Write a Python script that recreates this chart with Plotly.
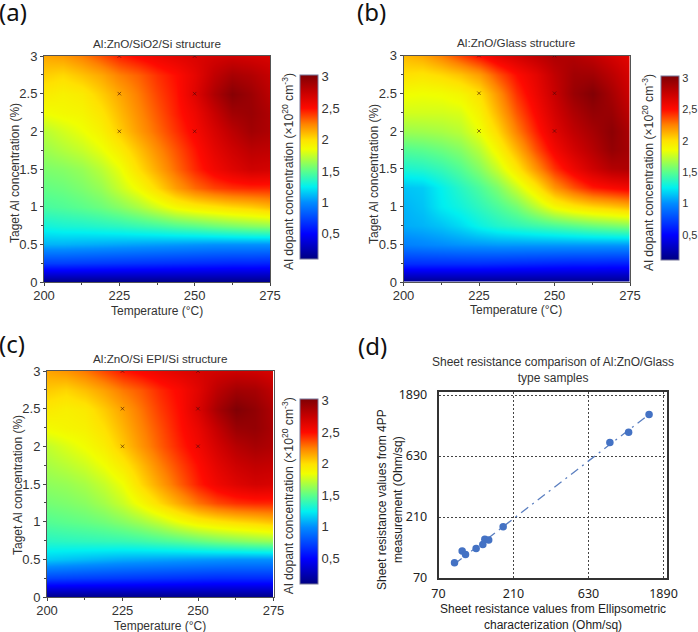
import plotly.graph_objects as go
import math

W, H = 698, 632

temps = [200, 206.25, 212.5, 218.75, 225, 231.25, 237.5, 243.75, 250, 256.25, 262.5, 268.75, 275]
targets = [0, 0.25, 0.5, 0.75, 1, 1.25, 1.5, 1.75, 2, 2.25, 2.5, 2.75, 3]

z_a = [
 [0.12,0.12,0.12,0.12,0.12,0.12,0.12,0.12,0.12,0.12,0.12,0.12,0.12],
 [0.72,0.72,0.71,0.70,0.69,0.68,0.67,0.66,0.65,0.64,0.63,0.63,0.62],
 [1.10,1.10,1.09,1.08,1.07,1.06,1.05,1.04,1.03,1.02,1.02,1.02,1.02],
 [1.30,1.32,1.33,1.35,1.37,1.40,1.43,1.47,1.50,1.54,1.57,1.60,1.62],
 [1.45,1.47,1.50,1.54,1.60,1.68,1.78,1.88,1.94,1.98,2.02,2.05,2.10],
 [1.52,1.54,1.58,1.64,1.75,1.87,2.02,2.18,2.30,2.38,2.42,2.44,2.44],
 [1.58,1.60,1.64,1.72,1.83,2.00,2.15,2.30,2.44,2.56,2.65,2.72,2.70],
 [1.65,1.70,1.75,1.83,1.94,2.08,2.22,2.35,2.48,2.62,2.72,2.80,2.78],
 [1.72,1.78,1.84,1.92,2.05,2.18,2.30,2.42,2.54,2.68,2.80,2.90,2.85],
 [1.85,1.88,1.90,1.98,2.10,2.22,2.34,2.46,2.58,2.75,2.90,2.93,2.85],
 [1.95,1.92,1.95,2.05,2.15,2.26,2.38,2.48,2.65,2.85,3.00,2.92,2.80],
 [2.05,2.02,2.08,2.15,2.25,2.32,2.42,2.50,2.62,2.78,2.88,2.84,2.76],
 [2.15,2.18,2.25,2.35,2.45,2.52,2.58,2.63,2.67,2.70,2.72,2.70,2.68],
]

z_b = [
 [0.12,0.12,0.12,0.12,0.12,0.12,0.12,0.12,0.12,0.12,0.12,0.12,0.12],
 [0.66,0.66,0.66,0.66,0.66,0.65,0.64,0.63,0.62,0.61,0.61,0.60,0.60],
 [0.96,0.98,1.00,1.02,1.03,1.04,1.04,1.04,1.04,1.04,1.04,1.04,1.04],
 [1.08,1.10,1.14,1.20,1.28,1.34,1.38,1.42,1.46,1.50,1.54,1.57,1.60],
 [1.10,1.14,1.24,1.30,1.38,1.46,1.56,1.72,1.88,1.97,2.03,2.07,2.12],
 [1.14,1.16,1.26,1.36,1.46,1.58,1.76,1.96,2.20,2.35,2.47,2.52,2.56],
 [1.33,1.35,1.40,1.48,1.60,1.76,1.97,2.20,2.42,2.58,2.72,2.83,2.85],
 [1.48,1.50,1.54,1.60,1.72,1.90,2.12,2.35,2.55,2.70,2.82,2.95,2.88],
 [1.65,1.66,1.68,1.72,1.84,2.02,2.25,2.45,2.64,2.78,2.88,2.98,2.85],
 [1.78,1.78,1.78,1.80,1.92,2.12,2.34,2.52,2.70,2.85,2.95,2.93,2.78],
 [1.86,1.85,1.86,1.90,2.00,2.20,2.42,2.58,2.75,2.93,3.02,2.88,2.72],
 [2.00,1.98,2.02,2.08,2.18,2.35,2.50,2.62,2.78,2.90,2.90,2.80,2.68],
 [2.10,2.15,2.25,2.38,2.50,2.62,2.70,2.78,2.85,2.84,2.78,2.70,2.62],
]

z_c = [
 [0.12,0.12,0.12,0.12,0.12,0.12,0.12,0.12,0.12,0.12,0.12,0.12,0.12],
 [0.74,0.73,0.72,0.71,0.70,0.69,0.68,0.67,0.66,0.65,0.65,0.65,0.65],
 [1.16,1.14,1.12,1.10,1.08,1.07,1.06,1.05,1.04,1.03,1.02,1.02,1.02],
 [1.36,1.37,1.38,1.39,1.40,1.42,1.45,1.48,1.52,1.56,1.59,1.62,1.64],
 [1.48,1.50,1.52,1.55,1.60,1.66,1.74,1.84,1.92,1.97,2.01,2.04,2.08],
 [1.56,1.58,1.61,1.67,1.76,1.88,2.02,2.15,2.28,2.37,2.42,2.44,2.44],
 [1.62,1.64,1.68,1.75,1.85,2.02,2.17,2.32,2.46,2.57,2.65,2.70,2.68],
 [1.68,1.72,1.77,1.85,1.96,2.10,2.25,2.38,2.50,2.63,2.73,2.78,2.76],
 [1.74,1.80,1.86,1.94,2.07,2.20,2.33,2.45,2.56,2.70,2.82,2.88,2.84],
 [1.87,1.90,1.92,2.00,2.12,2.24,2.36,2.48,2.60,2.77,2.93,2.95,2.86],
 [1.96,1.93,1.96,2.06,2.17,2.28,2.40,2.50,2.67,2.88,3.03,2.96,2.84],
 [2.06,2.03,2.09,2.17,2.27,2.34,2.44,2.52,2.64,2.80,2.90,2.88,2.78],
 [2.16,2.20,2.27,2.37,2.47,2.53,2.59,2.64,2.68,2.71,2.73,2.72,2.68],
]

sample_t = [225, 225, 225, 250, 250, 250]
sample_c = [2, 2.5, 3, 2, 2.5, 3]

bar_ticks = [0.5, 1, 1.5, 2, 2.5, 3]
bar_labels = ["0,5", "1", "1,5", "2", "2,5", "3"]
temp_ticks = [200, 225, 250, 275]
conc_ticks = [0, 0.5, 1, 1.5, 2, 2.5, 3]
conc_labels = ["0", "0.5", "1", "1.5", "2", "2.5", "3"]

ellip = [88.5, 99, 104, 121.5, 134, 138, 146, 180.5, 862, 1134, 1530]
fourpp = [92, 113.6, 107, 119, 128, 141, 139, 176, 803, 966, 1334]
fit_x = [88.5, 1530]
fit_y = [90, 1334]
log_ticks = [70, 210, 630, 1890]

ZMIN, ZMAX = 0.1, 3.03
def stop(v):
    return (v - ZMIN) / (ZMAX - ZMIN)
colors = [
    (0.1, "rgb(0,0,130)"), (0.5, "rgb(0,0,255)"), (1.0, "rgb(0,140,255)"),
    (1.25, "rgb(0,240,240)"), (1.5, "rgb(90,255,140)"), (1.85, "rgb(240,255,0)"),
    (2.0, "rgb(255,225,0)"), (2.25, "rgb(255,130,0)"), (2.5, "rgb(255,10,0)"),
    (2.75, "rgb(200,0,0)"), (3.03, "rgb(128,0,4)"),
]
cscale = [[stop(v), c] for v, c in colors]

def px(x): return x / W
def py(y): return 1 - y / H

GREY = "#333333"
SANS = "Liberation Sans, Arial, sans-serif"
HUM = "Noto Sans, Open Sans, sans-serif"

panels = [
 dict(z=z_a, box=(44, 270, 56, 282), bar=(300, 75, 259), title="Al:ZnO/SiO2/Si structure", tx=157, ty=43,
      lab="(a)", lx=13, ly=12, xt=157, xty=311, yt=15, yc=173, barT=288, tf=13),
 dict(z=z_b, box=(403.5, 630, 55.5, 282), bar=(660.5, 76, 260), title="Al:ZnO/Glass structure", tx=516, ty=42,
      lab="(b)", lx=371, ly=12, xt=516, xty=310, yt=374, yc=174, barT=648, tf=11),
 dict(z=z_c, box=(47, 273.5, 371, 597), bar=(300, 399, 583.5), title="Al:ZnO/Si EPI/Si structure", tx=159.5, ty=358,
      lab="(c)", lx=12, ly=343, xt=160, xty=626, yt=18, yc=485, barT=288, tf=13),
]

fig = go.Figure()
annotations = []
layout = dict(width=W, height=H, margin=dict(l=0, r=0, t=0, b=0, autoexpand=False),
              paper_bgcolor="white", plot_bgcolor="white", showlegend=False)

def note(text, x, y, size, angle=0, family=SANS, color=GREY):
    annotations.append(dict(text=text, x=px(x), y=py(y), xref="paper", yref="paper", showarrow=False,
                            textangle=angle, xanchor="center", yanchor="middle",
                            font=dict(size=size, family=family, color=color)))

for i, p in enumerate(panels, start=1):
    l, r, t, b = p["box"]
    bx, bt, bb = p["bar"]
    xa, ya = f"x{i}", f"y{i}"
    fig.add_trace(go.Heatmap(
        x=temps, y=targets, z=p["z"], zmin=ZMIN, zmax=ZMAX, zsmooth="best", colorscale=cscale,
        xaxis=xa, yaxis=ya,
        colorbar=dict(x=px(bx), xanchor="left", xref="paper", y=py(bb), yanchor="bottom", yref="paper",
                      len=(bb - bt), lenmode="pixels", thickness=18, thicknessmode="pixels",
                      tickvals=bar_ticks, ticktext=bar_labels, ticks="", ticklabelposition="outside",
                      tickfont=dict(size=p["tf"], family=SANS, color=GREY),
                      outlinecolor="#777799", outlinewidth=1, borderwidth=0, xpad=0, ypad=0),
    ))
    fig.add_trace(go.Scatter(x=sample_t, y=sample_c, mode="markers", xaxis=xa, yaxis=ya,
                             marker=dict(symbol="x-thin", size=3.5, line=dict(width=0.8, color="rgba(60,10,10,0.7)"))))
    axis_common = dict(showgrid=False, zeroline=False, ticks="outside", ticklen=3, tickwidth=1,
                       tickcolor="#444444", showline=True, linecolor="#555555", linewidth=1, mirror=True,
                       tickfont=dict(size=13, family=SANS, color=GREY))
    layout[f"xaxis{i}"] = dict(domain=[px(l), px(r)], anchor=ya, range=[200, 275], tickvals=temp_ticks,
                               ticklabelstandoff=-2,
                               minor=dict(ticks="outside", ticklen=2, dtick=12.5, tickcolor="#444444"), **axis_common)
    layout[f"yaxis{i}"] = dict(domain=[py(b), py(t)], anchor=xa, range=[0, 3], tickvals=conc_ticks,
                               ticktext=conc_labels,
                               minor=dict(ticks="outside", ticklen=2, dtick=0.25, tickcolor="#444444"), **axis_common)
    note(p["title"], p["tx"], p["ty"], 11.7)
    note("Temperature (°C)", p["xt"], p["xty"], 12)
    note("Taget Al concentration (%)", p["yt"], p["yc"], 12, angle=-90)
    note("Al dopant concentration (×10<sup>20</sup> cm<sup>-3</sup>)", p["barT"], (bt + bb) / 2 + 5, 12.2, angle=-90)
    note(p["lab"], p["lx"], p["ly"], 24, family=HUM, color="#111111")

# Panel (d)
l, r, t, b = 438.5, 667, 392, 578
fig.add_trace(go.Scatter(x=fit_x, y=fit_y, mode="lines", xaxis="x4", yaxis="y4",
                         line=dict(color="#5b7fc0", width=1.3, dash="9px,5px,2px,5px")))
fig.add_trace(go.Scatter(x=ellip, y=fourpp, mode="markers", xaxis="x4", yaxis="y4",
                         marker=dict(color="#4472c4", size=7.5)))
log_common = dict(type="log", tickvals=log_ticks, ticktext=[str(v) for v in log_ticks], showgrid=True,
                  gridcolor="#444444", griddash="2px,2px", gridwidth=1, zeroline=False, ticks="",
                  showline=True, linecolor="#333333", linewidth=1.5, mirror=True,
                  tickfont=dict(size=12.5, family=HUM, color="#222222"))
layout["xaxis4"] = dict(domain=[px(l), px(r)], anchor="y4", range=[math.log10(70), math.log10(1990)],
                        ticklabelstandoff=3, **log_common)
layout["yaxis4"] = dict(domain=[py(b), py(t)], anchor="x4", range=[math.log10(70), math.log10(1997)],
                        ticklabelstandoff=7, **log_common)
note("Sheet resistance comparison of Al:ZnO/Glass<br>type samples", 553, 370, 12)
note("Sheet resistance values from Ellipsometric<br>characterization (Ohm/sq)", 553, 616.5, 12, family=SANS, color="#222222")
note("Sheet resistance values from 4PP<br>measurement (Ohm/sq)", 390, 500, 12, angle=-90, color="#222222")
note("(d)", 372, 345, 24, family=HUM, color="#111111")

layout["annotations"] = annotations
fig.update_layout(**layout)
fig.write_html("out.html", post_script="document.body.style.margin='0';", config={"displayModeBar": False})
